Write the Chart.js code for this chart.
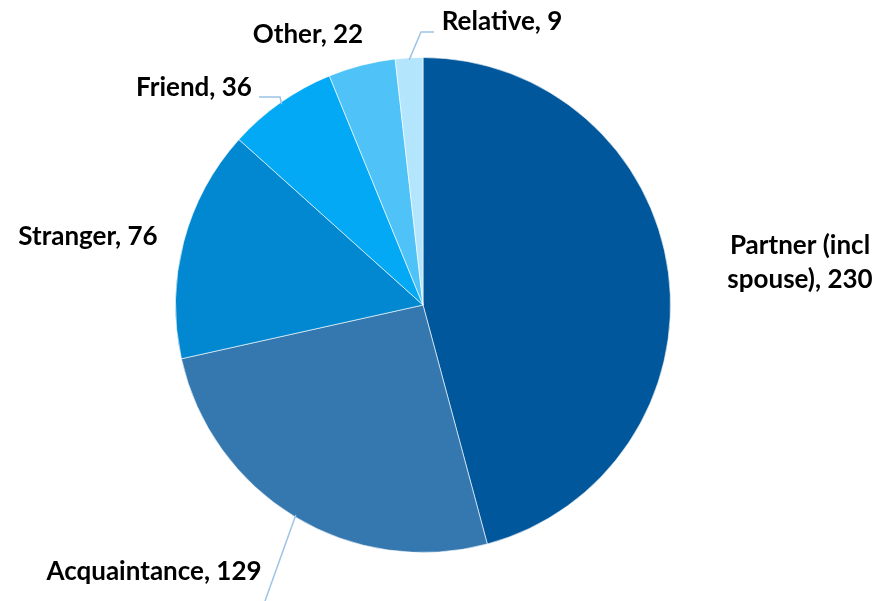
<!DOCTYPE html>
<html>
<head>
<meta charset="utf-8">
<script src="https://cdn.jsdelivr.net/npm/chart.js@4"></script>
<style>
  html, body { margin: 0; padding: 0; background: #fff; }
  #wrap { width: 879px; height: 601px; }
</style>
</head>
<body>
<div id="wrap"><canvas id="chart" width="879" height="601"></canvas></div>
<script>
'use strict';
//chart data
let categories = ['Partner (incl spouse)', 'Acquaintance', 'Stranger', 'Friend', 'Other', 'Relative'];
let counts = [230, 129, 76, 36, 22, 9];
let sliceColors = ['#01579B', '#3578B0', '#0288D1', '#03A9F4', '#4FC3F7', '#B3E5FC'];

//label text lines, split where the label wraps
let labelLines = [
  ['Partner (incl', 'spouse), 230'],
  ['Acquaintance, 129'],
  ['Stranger, 76'],
  ['Friend, 36'],
  ['Other, 22'],
  ['Relative, 9']
];
//where each label sits (center of text block) and optional leader line bend points
let labelSpots = [
  { x: 800, y: 263, leader: null },
  { x: 154, y: 572, leader: [[265, 601]] },
  { x: 88, y: 237, leader: null },
  { x: 194, y: 88, leader: [[280, 97], [259, 97]] },
  { x: 308, y: 35, leader: null },
  { x: 502, y: 22, leader: [[421, 32], [434, 32]] }
];

let labelFont = 'bold 26px Lato, "Open Sans", sans-serif';

//draws the outside labels and their leader lines
let outsideLabels = {
  id: 'outsideLabels',
  afterDatasetsDraw(chart) {
    let ctx = chart.ctx;
    let meta = chart.getDatasetMeta(0);
    ctx.save();
    for (let i = 0; i < meta.data.length; i++) {
      let arc = meta.data[i];
      let spot = labelSpots[i];
      if (spot.leader) {
        let p = arc.getProps(['x', 'y', 'startAngle', 'endAngle', 'outerRadius'], true);
        let mid = (p.startAngle + p.endAngle) / 2;
        let sx = p.x + Math.cos(mid) * (p.outerRadius - 2);
        let sy = p.y + Math.sin(mid) * (p.outerRadius - 2);
        ctx.beginPath();
        ctx.moveTo(sx, sy);
        for (let j = 0; j < spot.leader.length; j++) {
          ctx.lineTo(spot.leader[j][0], spot.leader[j][1]);
        }
        ctx.strokeStyle = '#9DC3E6';
        ctx.lineWidth = 1.5;
        ctx.stroke();
      }
      ctx.font = labelFont;
      ctx.fillStyle = '#000';
      ctx.textAlign = 'center';
      ctx.textBaseline = 'middle';
      let lines = labelLines[i];
      let lineGap = 34;
      let top = spot.y - (lines.length - 1) * lineGap / 2;
      for (let k = 0; k < lines.length; k++) {
        ctx.fillText(lines[k], spot.x, top + k * lineGap);
      }
    }
    ctx.restore();
  }
};

let ctx = document.getElementById('chart').getContext('2d');
new Chart(ctx, {
  type: 'pie',
  data: {
    labels: categories,
    datasets: [{
      data: counts,
      backgroundColor: sliceColors,
      borderColor: 'rgba(255,255,255,0.6)',
      borderWidth: 1
    }]
  },
  options: {
    responsive: false,
    animation: false,
    layout: {
      padding: { left: 175, right: 208, top: 57, bottom: 48 }
    },
    plugins: {
      legend: { display: false },
      tooltip: { enabled: false }
    }
  },
  plugins: [outsideLabels]
});
</script>
</body>
</html>
